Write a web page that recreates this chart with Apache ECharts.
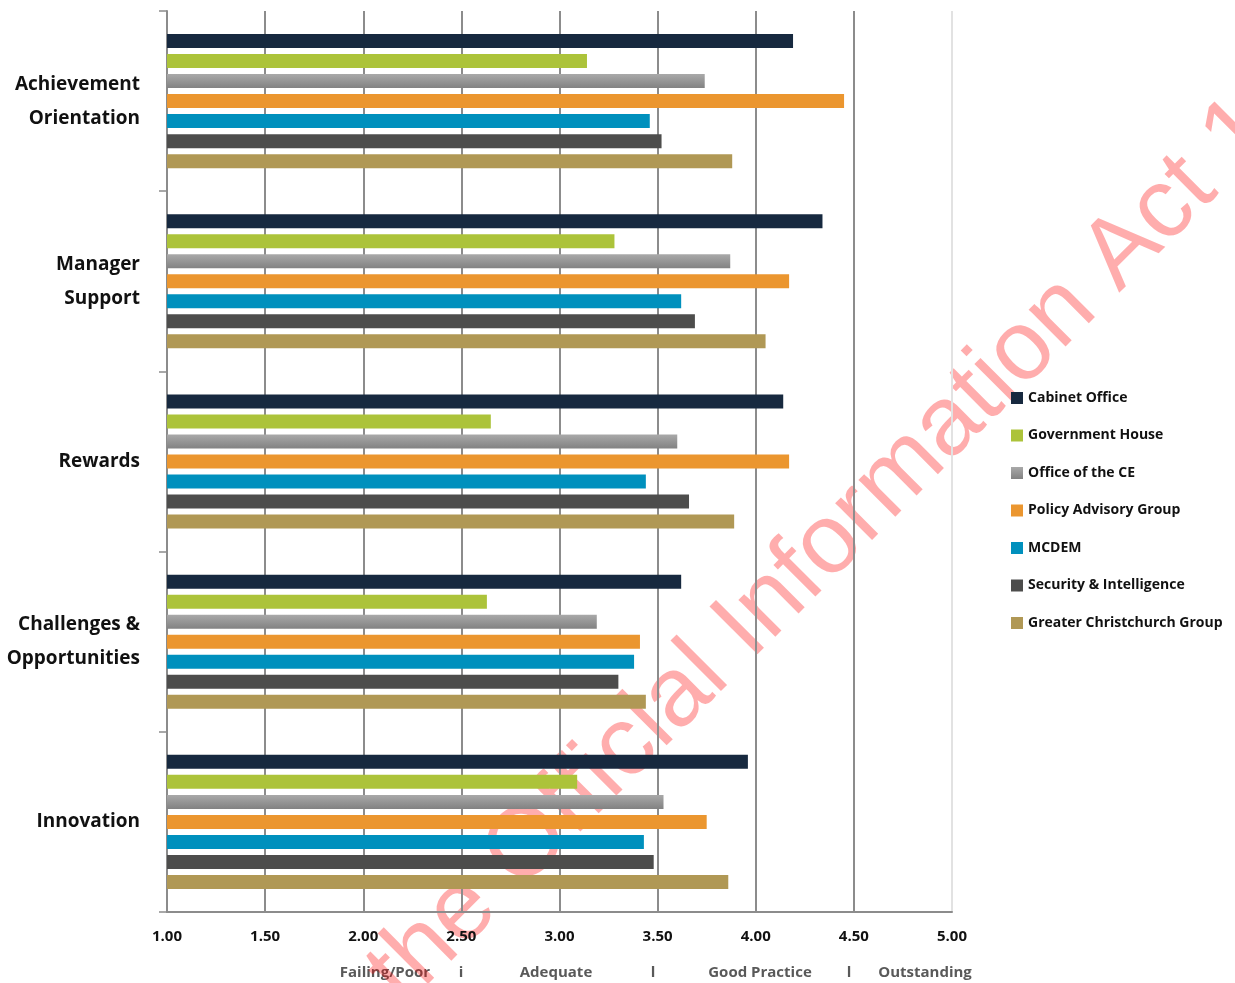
<!DOCTYPE html>
<html>
<head>
<meta charset="utf-8">
<script src="https://cdn.jsdelivr.net/npm/echarts@6/dist/echarts.min.js"></script>
<style>
  html, body { margin: 0; padding: 0; background: #ffffff; }
  #chart { width: 1235px; height: 983px; }
</style>
</head>
<body>
<div id="chart"></div>
<script>
// Survey dimensions (one group of bars each)
const categories = ['Achievement Orientation', 'Manager Support', 'Rewards', 'Challenges & Opportunities', 'Innovation'];

// Business units, in drawing order within each group
const units = ['Cabinet Office', 'Government House', 'Office of the CE', 'Policy Advisory Group', 'MCDEM', 'Security & Intelligence', 'Greater Christchurch Group'];

// Mean scores per dimension (1 = Failing/Poor ... 5 = Outstanding)
const cabinetOffice        = [4.19, 4.34, 4.14, 3.62, 3.96];
const governmentHouse      = [3.14, 3.28, 2.65, 2.63, 3.09];
const officeOfTheCE        = [3.74, 3.87, 3.60, 3.19, 3.53];
const policyAdvisoryGroup  = [4.45, 4.17, 4.17, 3.41, 3.75];
const mcdem                = [3.46, 3.62, 3.44, 3.38, 3.43];
const securityIntelligence = [3.52, 3.69, 3.66, 3.30, 3.48];
const greaterChristchurch  = [3.88, 4.05, 3.89, 3.44, 3.86];

// Score scale
const scaleMin = 1.0;
const scaleMax = 5.0;
const scaleStep = 0.5;

// Rating bands written under the score axis
const ratingBands = ['Failing/Poor', 'i', 'Adequate', 'l', 'Good Practice', 'l', 'Outstanding'];

// Release stamp
const stampLead = 'Released under ';
const stampTail = 'the Official Information Act 1982';

const seriesValues = [cabinetOffice, governmentHouse, officeOfTheCE, policyAdvisoryGroup, mcdem, securityIntelligence, greaterChristchurch];

const unitColors = [
  '#17293f',
  '#acc33a',
  new echarts.graphic.LinearGradient(0, 0, 0, 1, [
    { offset: 0, color: '#a9a9a9' },
    { offset: 1, color: '#828282' }
  ]),
  '#eb962f',
  '#0090bd',
  '#4d4d4c',
  '#b09855'
];

const FONT = '"Open Sans", "Noto Sans", sans-serif';
const GRID_COLOR = '#8c8c8c';

const chart = echarts.init(document.getElementById('chart'), null, { renderer: 'canvas' });

const series = units.map((name, i) => ({
  name: name,
  type: 'bar',
  data: seriesValues[i],
  barWidth: 14,
  barGap: '43%',
  itemStyle: { color: unitColors[i] },
  emphasis: { disabled: true }
}));

// Rating band captions, centred under the axis
const bandCentres = [385, 461, 556, 653, 760, 849, 925];
const bandTexts = ratingBands.map((t, i) => ({
  type: 'text',
  x: bandCentres[i],
  y: 973,
  style: {
    text: t,
    font: 'bold 15px ' + FONT,
    fill: '#595959',
    align: 'center',
    verticalAlign: 'middle',
    textAlign: 'center',
    textVerticalAlign: 'middle'
  }
}));

// Translucent diagonal release stamp over the whole chart
const STAMP_FONT = '98.5px "Liberation Sans", Arial, sans-serif';
const stamp = {
  type: 'group',
  x: 406,
  y: 1010,
  rotation: Math.PI / 4,
  z: 100,
  silent: true,
  children: [
    {
      type: 'text',
      x: 0, y: -30,
      style: {
        text: stampLead,
        font: STAMP_FONT,
        fill: 'rgba(255, 0, 0, 0.32)',
        align: 'right', verticalAlign: 'middle',
        textAlign: 'right', textVerticalAlign: 'middle'
      }
    },
    {
      type: 'text',
      x: 0, y: -30,
      style: {
        text: stampTail,
        font: STAMP_FONT,
        fill: 'rgba(255, 0, 0, 0.32)',
        align: 'left', verticalAlign: 'middle',
        textAlign: 'left', textVerticalAlign: 'middle'
      }
    }
  ]
};

const option = {
  animation: false,
  backgroundColor: '#ffffff',
  textStyle: { fontFamily: FONT },
  grid: { left: 167, right: 283, top: 11, bottom: 71, containLabel: false },
  legend: {
    orient: 'vertical',
    left: 1011,
    top: 389,
    padding: 0,
    data: units,
    icon: 'rect',
    itemWidth: 12,
    itemHeight: 12,
    itemGap: 19.5,
    selectedMode: false,
    textStyle: { fontFamily: FONT, fontSize: 14, fontWeight: 'bold', color: '#111111', lineHeight: 18 }
  },
  xAxis: {
    type: 'value',
    min: scaleMin,
    max: scaleMax,
    interval: scaleStep,
    axisLine: { show: true, lineStyle: { color: GRID_COLOR, width: 2 } },
    axisTick: { show: false },
    axisLabel: {
      margin: 17,
      fontFamily: FONT,
      fontSize: 15,
      fontWeight: 'bold',
      color: '#111111',
      formatter: v => v.toFixed(2)
    },
    splitLine: {
      show: true,
      lineStyle: {
        width: 2,
        color: [GRID_COLOR, GRID_COLOR, GRID_COLOR, GRID_COLOR, GRID_COLOR, GRID_COLOR, GRID_COLOR, GRID_COLOR, '#e2e2e2']
      }
    }
  },
  yAxis: {
    type: 'category',
    inverse: true,
    data: categories,
    axisLine: { show: true, lineStyle: { color: GRID_COLOR, width: 2 } },
    axisTick: { show: true, length: 8, lineStyle: { color: GRID_COLOR, width: 1.5 } },
    axisLabel: {
      margin: 27,
      fontFamily: FONT,
      fontSize: 19,
      fontWeight: 'bold',
      color: '#111111',
      lineHeight: 34,
      align: 'right',
      formatter: v => v.replace(/ (?=\S+$)/, '\n')
    },
    splitLine: { show: false }
  },
  series: series,
  graphic: bandTexts.concat([stamp])
};

chart.setOption(option);
</script>
</body>
</html>
